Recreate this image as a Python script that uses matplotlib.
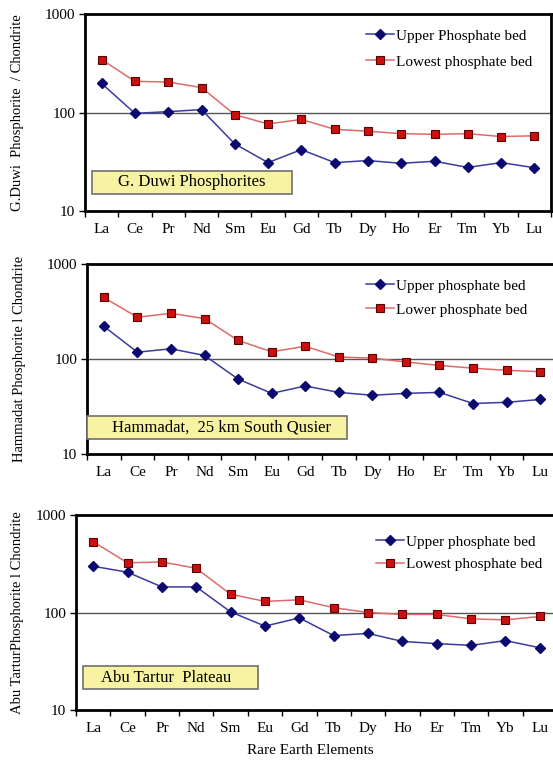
import matplotlib
matplotlib.use("Agg")
import matplotlib.pyplot as plt
from matplotlib.patches import Rectangle

elements = ["La", "Ce", "Pr", "Nd", "Sm", "Eu", "Gd", "Tb", "Dy", "Ho", "Er", "Tm", "Yb", "Lu"]

duwi_upper = [197, 98, 102, 107, 48, 31, 42, 31, 32.5, 30.5, 32, 27.7, 31, 27.5]
duwi_lower = [345, 207, 204, 179, 95, 76.5, 85, 67.5, 64.5, 61, 60, 61, 57, 58]

hamm_upper = [221, 118, 128, 109, 61.5, 43.5, 52, 44.5, 41.5, 43.5, 44.5, 34, 35, 37.5]
hamm_lower = [444, 275, 303, 266, 157, 119, 136, 105, 102, 93, 85.5, 80, 76, 73.5]

abu_upper = [298, 259, 183, 183, 101.5, 72.5, 88, 58, 61, 50.5, 48, 46, 51.5, 43.5]
abu_lower = [533, 323, 330, 284, 154, 130, 135, 112, 100, 95.5, 95.5, 86, 84, 91]

panels = [
    dict(up=duwi_upper, lo=duwi_lower, up_label="Upper Phosphate bed", lo_label="Lowest phosphate bed",
         ylabel="G.Duwi  Phosphorite  / Chondrite", title="G. Duwi Phosphorites",
         rect=(85, 551, 14, 211), leg=(366, 29), lsp=0.8, box=(92, 292, 171, 194), box_text_x=192,
         box_ha="center", ylab_x=18),
    dict(up=hamm_upper, lo=hamm_lower, up_label="Upper phosphate bed", lo_label="Lower phosphate bed",
         ylabel="Hammadat Phosphorite l Chondrite", title="Hammadat,  25 km South Qusier",
         rect=(87, 557, 264, 454), leg=(366, 279), lsp=0.68, box=(87, 347, 416, 439), box_text_x=112,
         box_ha="left", ylab_x=20),
    dict(up=abu_upper, lo=abu_lower, up_label="Upper phosphate bed", lo_label="Lowest phosphate bed",
         ylabel="Abu TarturPhosphorite l Chondrite", title="Abu Tartur  Plateau",
         rect=(76, 557, 515, 710), leg=(376, 535), lsp=0.58, box=(83, 258, 666, 689), box_text_x=101,
         box_ha="left", ylab_x=18),
]

W, H = 553, 762
fig = plt.figure(figsize=(W / 100, H / 100), dpi=100)
plt.rcParams["font.family"] = ["Liberation Serif", "DejaVu Serif"]

x = list(range(len(elements)))
for p in panels:
    l, r, t, b = p["rect"]
    ax = fig.add_axes([l / W, (H - b) / H, (r - l) / W, (b - t) / H])
    ax.set_yscale("log")
    ax.set_ylim(10, 1000)
    ax.set_xlim(-0.5, len(elements) - 0.5)
    ax.axhline(100, color="#555555", lw=1.0, zorder=1)
    ax.plot(x, p["up"], color="#3a3aa0", lw=1.1, marker="D", ms=5.5,
            mfc="#0a0a70", mec="#0a0a70", label=p["up_label"], zorder=3)
    ax.plot(x, p["lo"], color="#e06a6a", lw=1.1, marker="s", ms=5.5,
            mfc="#cc1010", mec="#5a0000", mew=0.8, label=p["lo_label"], zorder=3)
    ax.set_yticks([10, 100, 1000])
    ax.set_yticklabels(["10", "100", "1000"])
    ax.minorticks_off()
    ax.set_xticks(x)
    ax.set_xticklabels(elements, va="baseline")
    ax.set_xticks([i - 0.5 for i in range(len(elements) + 1)], minor=True)
    ax.tick_params(axis="x", which="major", length=0, labelsize=11, pad=15.5)
    ax.tick_params(axis="x", which="minor", length=4, width=1, direction="out")
    ax.tick_params(axis="y", which="major", length=4, width=1, direction="out", labelsize=11, pad=3)
    for s in ax.spines.values():
        s.set_linewidth(2.0)
        s.set_color("black")
    ax.legend(loc="upper left", bbox_to_anchor=(p["leg"][0] / W, (H - p["leg"][1]) / H),
              bbox_transform=fig.transFigure, frameon=False, fontsize=11,
              handlelength=1.8, handletextpad=0.15, labelspacing=p["lsp"], borderpad=0,
              borderaxespad=0)
    fig.text(p["ylab_x"] / W, (H - (t + b) / 2) / H, p["ylabel"], rotation=90,
             ha="center", va="center", fontsize=10.5)
    bx0, bx1, by0, by1 = p["box"]
    fig.patches.append(Rectangle((bx0 / W, (H - by1) / H), (bx1 - bx0) / W, (by1 - by0) / H,
                                 transform=fig.transFigure, facecolor="#f8f3a2",
                                 edgecolor="#707070", lw=1.2, zorder=5))
    fig.text(p["box_text_x"] / W, (H - (by0 + by1) / 2) / H, p["title"], ha=p["box_ha"],
             va="center", fontsize=12, zorder=6)

fig.text(310 / W, (H - 751) / H, "Rare Earth Elements", ha="center", va="center", fontsize=11)

fig.savefig("out.png", dpi=100)
